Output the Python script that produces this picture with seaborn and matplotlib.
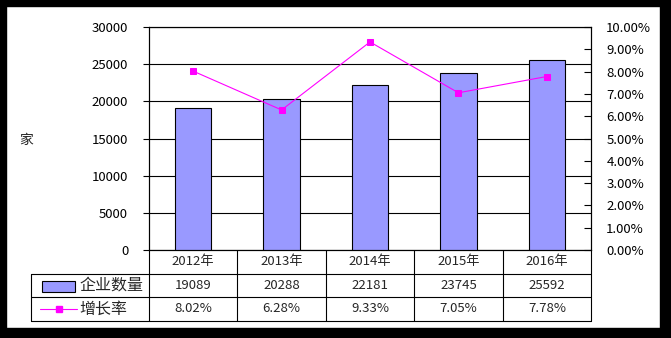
import matplotlib
matplotlib.use("Agg")
import matplotlib.pyplot as plt
import seaborn as sns
import numpy as np
from matplotlib.lines import Line2D
from matplotlib.patches import Rectangle

years = ["2012年", "2013年", "2014年", "2015年", "2016年"]
counts = [19089, 20288, 22181, 23745, 25592]
growth = [8.02, 6.28, 9.33, 7.05, 7.78]
count_labels = ["19089", "20288", "22181", "23745", "25592"]
growth_labels = ["8.02%", "6.28%", "9.33%", "7.05%", "7.78%"]
series_names = ["企业数量", "增长率"]
left_ticks = [0, 5000, 10000, 15000, 20000, 25000, 30000]
right_ticks = list(range(0, 11))

sns.set_theme(style="white")
plt.rcParams['font.family'] = ['Noto Sans CJK SC', 'DejaVu Sans']

W, H = 671, 338
fig = plt.figure(figsize=(W / 100, H / 100), dpi=100)
fig.patch.set_facecolor("white")

def fx(x):
    return x / W

def fy(y):
    return 1 - y / H

L, R, T, B = 149, 591, 27, 250
ax = fig.add_axes([fx(L), fy(B), fx(R) - fx(L), fy(T) - fy(B)])
sns.barplot(x=years, y=counts, ax=ax, color="#9999FF", saturation=1,
            edgecolor="black", linewidth=0.8, width=0.41, zorder=3)
ax.set_xlim(-0.5, 4.5)
ax.set_ylim(0, 30000)
ax.set_yticks(left_ticks)
ax.set_yticklabels([str(t) for t in left_ticks], fontsize=9.5, color="black")
ax.tick_params(axis="y", direction="out", length=4, width=0.8, color="black", pad=11, left=True)
ax.tick_params(axis="x", bottom=False, labelbottom=False)
ax.set_xlabel("")
ax.set_ylabel("")
for v in left_ticks:
    ax.axhline(v, color="black", linewidth=0.8, zorder=1)
for s in ax.spines.values():
    s.set_color("black")
    s.set_linewidth(0.8)
    s.set_visible(True)

ax2 = ax.twinx()
sns.lineplot(x=np.arange(len(growth)), y=growth, ax=ax2, color="#FF00FF",
             marker="s", markersize=5, markeredgecolor="#FF00FF", linewidth=0.8, zorder=4)
ax2.set_ylim(0, 10)
ax2.set_xlim(-0.5, 4.5)
ax2.set_yticks(right_ticks)
ax2.set_yticklabels([f"{t:.2f}%" for t in right_ticks], fontsize=9.5, color="black")
ax2.tick_params(axis="y", direction="in", length=5, width=0.8, color="black", pad=11, right=True)
ax2.set_ylabel("")
ax2.grid(False)
for s in ax2.spines.values():
    s.set_color("black")
    s.set_linewidth(0.8)

fig.text(fx(26), fy(140), "家", fontsize=10, ha="center", va="center")

# data table below the plot
rows = [250, 274, 297, 321]
TL = 31
cw = (R - L) / 5

def hline(x0, x1, y):
    fig.add_artist(Line2D([fx(x0), fx(x1)], [fy(y), fy(y)], color="black", lw=0.8))

def vline(x, y0, y1):
    fig.add_artist(Line2D([fx(x), fx(x)], [fy(y0), fy(y1)], color="black", lw=0.8))

hline(TL, R, rows[1])
hline(TL, R, rows[2])
hline(TL, R, rows[3])
vline(TL, rows[1], rows[3])
for k in range(6):
    vline(L + cw * k, rows[0], rows[3])

for i in range(5):
    cx = L + cw * (i + 0.5)
    fig.text(fx(cx), fy((rows[0] + rows[1]) / 2), years[i], fontsize=9.5, ha="center", va="center")
    fig.text(fx(cx), fy((rows[1] + rows[2]) / 2), count_labels[i], fontsize=9.5, ha="center", va="center")
    fig.text(fx(cx), fy((rows[2] + rows[3]) / 2), growth_labels[i], fontsize=9.5, ha="center", va="center")

# legend keys
fig.add_artist(Rectangle((fx(42), fy(292)), fx(75) - fx(42), fy(281) - fy(292),
                         facecolor="#9999FF", edgecolor="black", lw=0.8))
fig.text(fx(79), fy((rows[1] + rows[2]) / 2), series_names[0], fontsize=11.5, ha="left", va="center")
fig.add_artist(Line2D([fx(40), fx(77)], [fy(309), fy(309)], color="#FF00FF", lw=0.8))
fig.add_artist(Line2D([fx(58.5)], [fy(309)], color="#FF00FF", marker="s", markersize=5, lw=0))
fig.text(fx(79), fy((rows[2] + rows[3]) / 2), series_names[1], fontsize=11.5, ha="left", va="center")

# black frame
fig.add_artist(Rectangle((0, 0), 1, fy(0) - fy(10), transform=fig.transFigure, color="black"))
fig.add_artist(Rectangle((0, fy(6)), 1, fy(0) - fy(6), transform=fig.transFigure, color="black"))
fig.add_artist(Rectangle((0, 0), fx(6), 1, transform=fig.transFigure, color="black"))
fig.add_artist(Rectangle((fx(660), 0), 1 - fx(660), 1, transform=fig.transFigure, color="black"))

fig.savefig("out.png", dpi=100)
